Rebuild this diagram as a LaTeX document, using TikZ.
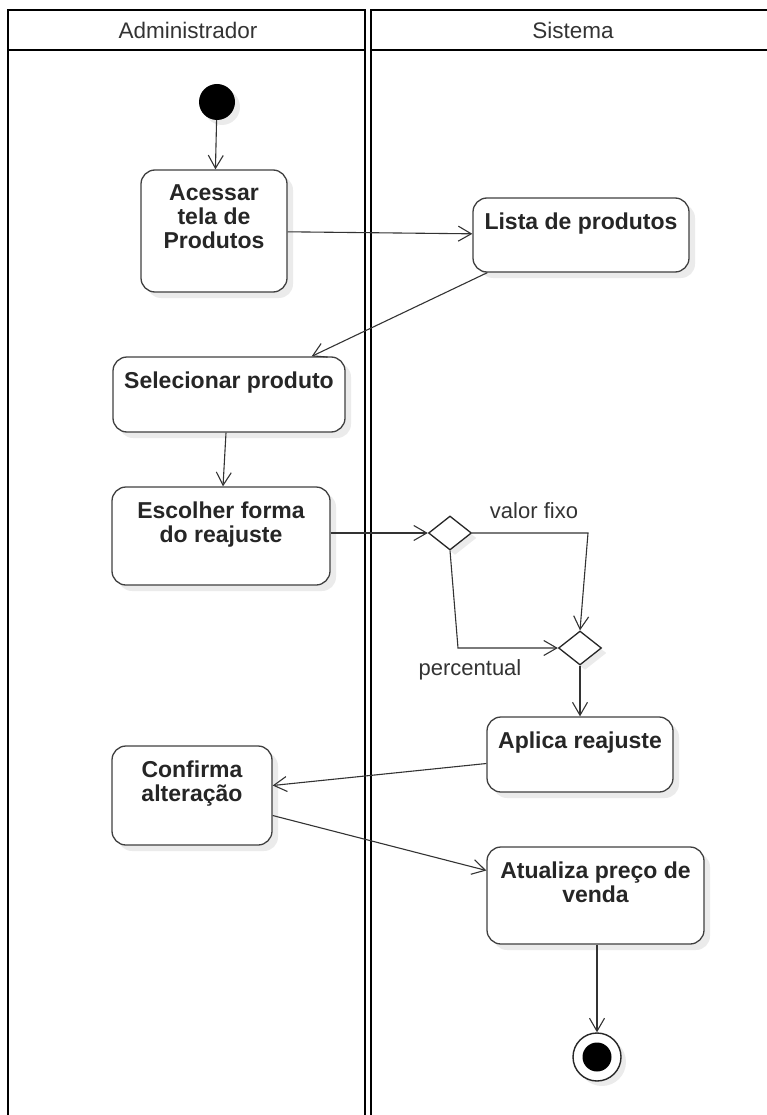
\documentclass[tikz,border=0pt]{standalone}
\usepackage{fontspec}
\setmainfont{Liberation Sans}
\usetikzlibrary{arrows.meta,shadows,shapes.geometric}

\begin{document}
\begin{tikzpicture}[x=1pt,y=-1pt,
    lane/.style={draw=black,line width=2.6},
    head/.style={inner sep=0,font=\fontsize{22.5}{24}\selectfont,text=black!80},
    act/.style={draw=black!75,fill=white,line width=1.3,rounded corners=14,
      drop shadow={shadow xshift=6pt,shadow yshift=-6pt,fill=black!8,opacity=1}},
    acttext/.style={anchor=north,inner sep=0,align=center,yshift=-15,
      font=\fontsize{23}{24}\selectfont\bfseries,text=black!85},
    decision/.style={diamond,draw=black!85,fill=white,line width=1.3,inner sep=0,
      minimum width=43,minimum height=34,
      drop shadow={shadow xshift=5pt,shadow yshift=-5pt,fill=black!8,opacity=1}},
    guard/.style={inner sep=0,font=\fontsize{22}{24}\selectfont,text=black!80},
    initial/.style={circle,fill=black,minimum size=36,inner sep=0,
      drop shadow={shadow xshift=5pt,shadow yshift=-5pt,fill=black!8,opacity=1}},
    final/.style={circle,draw=black!85,fill=white,line width=1.4,minimum size=48,inner sep=0,
      drop shadow={shadow xshift=5pt,shadow yshift=-5pt,fill=black!8,opacity=1},
      path picture={\fill[black] (path picture bounding box.center) circle (14.5pt);}},
    flow/.style={-{Straight Barb[length=13pt,width=15pt]},line width=1.1,color=black!80}]
    \useasboundingbox (0,0) rectangle (767,1115);

    % swimlanes
    \begin{scope}
    \clip (0,0) rectangle (767,1115);
    \draw[lane] (8,10) rectangle (365,1140);
    \draw[lane] (8,50) -- (365,50);
    \draw[lane] (371,10) rectangle (776,1140);
    \draw[lane] (371,50) -- (776,50);
    \end{scope}
    \node[head] (adm) at (188,30) {Administrador};
    \node[head] (sis) at (573,30) {Sistema};

    % activities
    \node[initial] (ini) at (217,102) {};
    \node[act,minimum width=146,minimum height=122,label={[acttext]north:Acessar\\tela de\\Produtos}] (acessar) at (214,231) {};
    \node[act,minimum width=216,minimum height=74,label={[acttext]north:Lista de produtos}] (lista) at (581,235) {};
    \node[act,minimum width=232,minimum height=75,label={[acttext]north:Selecionar produto}] (selec) at (229,394.5) {};
    \node[act,minimum width=218,minimum height=98,label={[acttext]north:Escolher forma\\do reajuste}] (escol) at (221,536) {};
    \node[decision] (d1) at (450,533) {};
    \node[decision] (d2) at (580,648) {};
    \node[act,minimum width=186,minimum height=75,label={[acttext]north:Aplica reajuste}] (aplica) at (580,754.5) {};
    \node[act,minimum width=160,minimum height=99,label={[acttext]north:Confirma\\alteração}] (confirma) at (192,795.5) {};
    \node[act,minimum width=217,minimum height=97,label={[acttext]north:Atualiza preço de\\venda}] (atual) at (595.5,895.5) {};
    \node[final] (fim) at (597,1057) {};

    \coordinate (vf) at (588,533);
    \coordinate (pc) at (458,648);
    \node[guard,anchor=base] (lvf) at (534,518) {valor fixo};
    \node[guard,anchor=base] (lpc) at (470,675) {percentual};

    % flows
    \path [flow] (ini) edge (acessar);
    \path [flow] (acessar) edge (lista);
    \path [flow] ([xshift=15pt]lista.south west) edge ([xshift=-34pt]selec.north east);
    \path [flow] ([xshift=-3pt]selec.south) edge ([xshift=2pt]escol.north);
    \path [flow] (escol.east |- d1) edge (d1.west);
    \draw [flow] (d1.east) -- (vf) -- (d2.north);
    \draw [flow] (d1.south) -- (pc) -- (d2.west);
    \path [flow] (d2) edge (aplica);
    \path [flow] ([yshift=-9pt]aplica.west) edge ([yshift=10pt]confirma.east);
    \path [flow] ([yshift=-20pt]confirma.east) edge ([yshift=25pt]atual.west);
    \path [flow] (atual.south -| fim) edge (fim);
\end{tikzpicture}
\end{document}
